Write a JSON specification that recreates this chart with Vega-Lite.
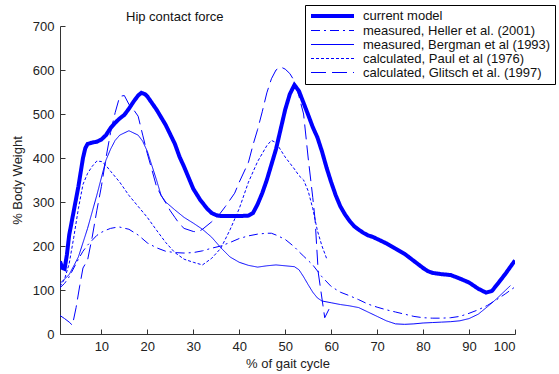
{
  "$schema": "https://vega.github.io/schema/vega-lite/v6.json",
  "width": 455,
  "height": 308,
  "autosize": "none",
  "padding": {"left": 60, "top": 26, "right": 44, "bottom": 40},
  "background": "white",
  "config": {
    "view": {"stroke": null},
    "font": "Liberation Sans",
    "axis": {
      "domainColor": "#333333",
      "tickColor": "#333333",
      "labelColor": "#222222",
      "labelFont": "Liberation Sans",
      "labelFontSize": 13,
      "titleFont": "Liberation Sans",
      "titleFontSize": 13,
      "titleFontWeight": "normal",
      "titleColor": "#222222",
      "grid": false,
      "tickSize": -5,
      "labelPadding": 11
    }
  },
  "title": {
    "text": "Hip contact force",
    "anchor": "start",
    "frame": "group",
    "dx": 66,
    "dy": 24,
    "fontSize": 13,
    "fontWeight": "normal",
    "font": "Liberation Sans",
    "color": "#111111",
    "offset": 5
  },
  "datasets": {
    "curves": [
      {"series": "current model", "x": 1, "y": 165}, {"series": "current model", "x": 1.5, "y": 150}, {"series": "current model", "x": 2, "y": 148}, {"series": "current model", "x": 2.5, "y": 180}, {"series": "current model", "x": 3, "y": 225}, {"series": "current model", "x": 4, "y": 280}, {"series": "current model", "x": 5, "y": 335}, {"series": "current model", "x": 6, "y": 400}, {"series": "current model", "x": 6.5, "y": 422}, {"series": "current model", "x": 7, "y": 432}, {"series": "current model", "x": 8, "y": 435}, {"series": "current model", "x": 9, "y": 437}, {"series": "current model", "x": 10, "y": 442}, {"series": "current model", "x": 11, "y": 452}, {"series": "current model", "x": 12, "y": 468}, {"series": "current model", "x": 13, "y": 480}, {"series": "current model", "x": 14, "y": 490}, {"series": "current model", "x": 15, "y": 498}, {"series": "current model", "x": 16, "y": 512}, {"series": "current model", "x": 17, "y": 528}, {"series": "current model", "x": 18, "y": 542}, {"series": "current model", "x": 18.7, "y": 548}, {"series": "current model", "x": 19.5, "y": 545}, {"series": "current model", "x": 20, "y": 540}, {"series": "current model", "x": 22, "y": 510}, {"series": "current model", "x": 24, "y": 475}, {"series": "current model", "x": 26, "y": 432}, {"series": "current model", "x": 27, "y": 403}, {"series": "current model", "x": 28, "y": 380}, {"series": "current model", "x": 30, "y": 330}, {"series": "current model", "x": 31.5, "y": 305}, {"series": "current model", "x": 33, "y": 285}, {"series": "current model", "x": 34, "y": 275}, {"series": "current model", "x": 35, "y": 270}, {"series": "current model", "x": 36, "y": 268}, {"series": "current model", "x": 38, "y": 268}, {"series": "current model", "x": 40, "y": 268}, {"series": "current model", "x": 42, "y": 269}, {"series": "current model", "x": 43, "y": 275}, {"series": "current model", "x": 44, "y": 295}, {"series": "current model", "x": 45, "y": 320}, {"series": "current model", "x": 46, "y": 350}, {"series": "current model", "x": 47, "y": 385}, {"series": "current model", "x": 48, "y": 420}, {"series": "current model", "x": 49, "y": 465}, {"series": "current model", "x": 50, "y": 510}, {"series": "current model", "x": 51, "y": 545}, {"series": "current model", "x": 52, "y": 566}, {"series": "current model", "x": 53, "y": 552}, {"series": "current model", "x": 54, "y": 525}, {"series": "current model", "x": 55, "y": 498}, {"series": "current model", "x": 56, "y": 470}, {"series": "current model", "x": 57, "y": 447}, {"series": "current model", "x": 58, "y": 415}, {"series": "current model", "x": 59, "y": 378}, {"series": "current model", "x": 60, "y": 345}, {"series": "current model", "x": 61, "y": 315}, {"series": "current model", "x": 62, "y": 290}, {"series": "current model", "x": 63, "y": 272}, {"series": "current model", "x": 64, "y": 257}, {"series": "current model", "x": 65, "y": 245}, {"series": "current model", "x": 66, "y": 237}, {"series": "current model", "x": 67, "y": 230}, {"series": "current model", "x": 68, "y": 224}, {"series": "current model", "x": 69, "y": 221}, {"series": "current model", "x": 70, "y": 216}, {"series": "current model", "x": 72, "y": 206}, {"series": "current model", "x": 74, "y": 194}, {"series": "current model", "x": 76, "y": 182}, {"series": "current model", "x": 78, "y": 166}, {"series": "current model", "x": 80, "y": 150}, {"series": "current model", "x": 81, "y": 143}, {"series": "current model", "x": 82, "y": 139}, {"series": "current model", "x": 84, "y": 136}, {"series": "current model", "x": 86, "y": 134}, {"series": "current model", "x": 88, "y": 126}, {"series": "current model", "x": 90, "y": 117}, {"series": "current model", "x": 92, "y": 103}, {"series": "current model", "x": 93.7, "y": 94}, {"series": "current model", "x": 95, "y": 98}, {"series": "current model", "x": 96.6, "y": 119}, {"series": "current model", "x": 98, "y": 138}, {"series": "current model", "x": 99.5, "y": 160}, {"series": "current model", "x": 100, "y": 167},

      {"series": "measured, Heller et al. (2001)", "x": 1, "y": 105}, {"series": "measured, Heller et al. (2001)", "x": 2, "y": 115}, {"series": "measured, Heller et al. (2001)", "x": 3, "y": 130}, {"series": "measured, Heller et al. (2001)", "x": 4, "y": 150}, {"series": "measured, Heller et al. (2001)", "x": 5, "y": 170}, {"series": "measured, Heller et al. (2001)", "x": 6, "y": 188}, {"series": "measured, Heller et al. (2001)", "x": 7, "y": 202}, {"series": "measured, Heller et al. (2001)", "x": 8, "y": 213}, {"series": "measured, Heller et al. (2001)", "x": 9, "y": 224}, {"series": "measured, Heller et al. (2001)", "x": 10, "y": 231}, {"series": "measured, Heller et al. (2001)", "x": 11, "y": 236}, {"series": "measured, Heller et al. (2001)", "x": 12, "y": 240}, {"series": "measured, Heller et al. (2001)", "x": 13, "y": 242}, {"series": "measured, Heller et al. (2001)", "x": 14, "y": 243}, {"series": "measured, Heller et al. (2001)", "x": 16, "y": 238}, {"series": "measured, Heller et al. (2001)", "x": 18, "y": 225}, {"series": "measured, Heller et al. (2001)", "x": 20, "y": 207}, {"series": "measured, Heller et al. (2001)", "x": 22, "y": 196}, {"series": "measured, Heller et al. (2001)", "x": 24, "y": 188}, {"series": "measured, Heller et al. (2001)", "x": 26, "y": 185}, {"series": "measured, Heller et al. (2001)", "x": 28, "y": 184}, {"series": "measured, Heller et al. (2001)", "x": 30, "y": 185}, {"series": "measured, Heller et al. (2001)", "x": 32, "y": 189}, {"series": "measured, Heller et al. (2001)", "x": 34, "y": 195}, {"series": "measured, Heller et al. (2001)", "x": 36, "y": 200}, {"series": "measured, Heller et al. (2001)", "x": 38, "y": 208}, {"series": "measured, Heller et al. (2001)", "x": 40, "y": 217}, {"series": "measured, Heller et al. (2001)", "x": 42, "y": 223}, {"series": "measured, Heller et al. (2001)", "x": 44, "y": 227}, {"series": "measured, Heller et al. (2001)", "x": 46, "y": 229}, {"series": "measured, Heller et al. (2001)", "x": 47, "y": 229}, {"series": "measured, Heller et al. (2001)", "x": 48, "y": 225}, {"series": "measured, Heller et al. (2001)", "x": 50, "y": 215}, {"series": "measured, Heller et al. (2001)", "x": 52, "y": 198}, {"series": "measured, Heller et al. (2001)", "x": 53, "y": 187}, {"series": "measured, Heller et al. (2001)", "x": 54, "y": 177}, {"series": "measured, Heller et al. (2001)", "x": 56, "y": 157}, {"series": "measured, Heller et al. (2001)", "x": 58, "y": 130}, {"series": "measured, Heller et al. (2001)", "x": 60, "y": 108}, {"series": "measured, Heller et al. (2001)", "x": 62, "y": 95}, {"series": "measured, Heller et al. (2001)", "x": 64, "y": 87}, {"series": "measured, Heller et al. (2001)", "x": 66, "y": 78}, {"series": "measured, Heller et al. (2001)", "x": 68, "y": 68}, {"series": "measured, Heller et al. (2001)", "x": 70, "y": 61}, {"series": "measured, Heller et al. (2001)", "x": 72, "y": 55}, {"series": "measured, Heller et al. (2001)", "x": 74, "y": 50}, {"series": "measured, Heller et al. (2001)", "x": 76, "y": 45}, {"series": "measured, Heller et al. (2001)", "x": 78, "y": 40}, {"series": "measured, Heller et al. (2001)", "x": 80, "y": 37}, {"series": "measured, Heller et al. (2001)", "x": 82, "y": 36}, {"series": "measured, Heller et al. (2001)", "x": 84, "y": 36}, {"series": "measured, Heller et al. (2001)", "x": 86, "y": 37}, {"series": "measured, Heller et al. (2001)", "x": 88, "y": 40}, {"series": "measured, Heller et al. (2001)", "x": 90, "y": 47}, {"series": "measured, Heller et al. (2001)", "x": 92, "y": 55}, {"series": "measured, Heller et al. (2001)", "x": 94, "y": 65}, {"series": "measured, Heller et al. (2001)", "x": 96, "y": 78}, {"series": "measured, Heller et al. (2001)", "x": 98, "y": 92}, {"series": "measured, Heller et al. (2001)", "x": 100, "y": 107},

      {"series": "measured, Bergman et al (1993)", "x": 1, "y": 115}, {"series": "measured, Bergman et al (1993)", "x": 3, "y": 135}, {"series": "measured, Bergman et al (1993)", "x": 5, "y": 175}, {"series": "measured, Bergman et al (1993)", "x": 7, "y": 240}, {"series": "measured, Bergman et al (1993)", "x": 9, "y": 315}, {"series": "measured, Bergman et al (1993)", "x": 11, "y": 395}, {"series": "measured, Bergman et al (1993)", "x": 12, "y": 420}, {"series": "measured, Bergman et al (1993)", "x": 13, "y": 440}, {"series": "measured, Bergman et al (1993)", "x": 14, "y": 452}, {"series": "measured, Bergman et al (1993)", "x": 16, "y": 462}, {"series": "measured, Bergman et al (1993)", "x": 18, "y": 452}, {"series": "measured, Bergman et al (1993)", "x": 19, "y": 438}, {"series": "measured, Bergman et al (1993)", "x": 20, "y": 415}, {"series": "measured, Bergman et al (1993)", "x": 22, "y": 350}, {"series": "measured, Bergman et al (1993)", "x": 23, "y": 315}, {"series": "measured, Bergman et al (1993)", "x": 24, "y": 300}, {"series": "measured, Bergman et al (1993)", "x": 26, "y": 282}, {"series": "measured, Bergman et al (1993)", "x": 28, "y": 265}, {"series": "measured, Bergman et al (1993)", "x": 30, "y": 252}, {"series": "measured, Bergman et al (1993)", "x": 32, "y": 238}, {"series": "measured, Bergman et al (1993)", "x": 34, "y": 220}, {"series": "measured, Bergman et al (1993)", "x": 36, "y": 196}, {"series": "measured, Bergman et al (1993)", "x": 38, "y": 175}, {"series": "measured, Bergman et al (1993)", "x": 40, "y": 163}, {"series": "measured, Bergman et al (1993)", "x": 42, "y": 156}, {"series": "measured, Bergman et al (1993)", "x": 44, "y": 152}, {"series": "measured, Bergman et al (1993)", "x": 46, "y": 155}, {"series": "measured, Bergman et al (1993)", "x": 48, "y": 157}, {"series": "measured, Bergman et al (1993)", "x": 50, "y": 155}, {"series": "measured, Bergman et al (1993)", "x": 52, "y": 153}, {"series": "measured, Bergman et al (1993)", "x": 53, "y": 146}, {"series": "measured, Bergman et al (1993)", "x": 54, "y": 130}, {"series": "measured, Bergman et al (1993)", "x": 55, "y": 112}, {"series": "measured, Bergman et al (1993)", "x": 56, "y": 95}, {"series": "measured, Bergman et al (1993)", "x": 57, "y": 82}, {"series": "measured, Bergman et al (1993)", "x": 58, "y": 75}, {"series": "measured, Bergman et al (1993)", "x": 60, "y": 71}, {"series": "measured, Bergman et al (1993)", "x": 62, "y": 67}, {"series": "measured, Bergman et al (1993)", "x": 64, "y": 64}, {"series": "measured, Bergman et al (1993)", "x": 66, "y": 60}, {"series": "measured, Bergman et al (1993)", "x": 68, "y": 50}, {"series": "measured, Bergman et al (1993)", "x": 70, "y": 40}, {"series": "measured, Bergman et al (1993)", "x": 72, "y": 30}, {"series": "measured, Bergman et al (1993)", "x": 74, "y": 23}, {"series": "measured, Bergman et al (1993)", "x": 76, "y": 22}, {"series": "measured, Bergman et al (1993)", "x": 78, "y": 23}, {"series": "measured, Bergman et al (1993)", "x": 80, "y": 25}, {"series": "measured, Bergman et al (1993)", "x": 82, "y": 26}, {"series": "measured, Bergman et al (1993)", "x": 84, "y": 27}, {"series": "measured, Bergman et al (1993)", "x": 86, "y": 28}, {"series": "measured, Bergman et al (1993)", "x": 88, "y": 30}, {"series": "measured, Bergman et al (1993)", "x": 90, "y": 35}, {"series": "measured, Bergman et al (1993)", "x": 92, "y": 45}, {"series": "measured, Bergman et al (1993)", "x": 94, "y": 62}, {"series": "measured, Bergman et al (1993)", "x": 96, "y": 80}, {"series": "measured, Bergman et al (1993)", "x": 98, "y": 100}, {"series": "measured, Bergman et al (1993)", "x": 99, "y": 110},

      {"series": "calculated, Paul et al (1976)", "x": 1, "y": 108}, {"series": "calculated, Paul et al (1976)", "x": 2, "y": 125}, {"series": "calculated, Paul et al (1976)", "x": 3, "y": 160}, {"series": "calculated, Paul et al (1976)", "x": 4, "y": 220}, {"series": "calculated, Paul et al (1976)", "x": 5, "y": 285}, {"series": "calculated, Paul et al (1976)", "x": 6, "y": 340}, {"series": "calculated, Paul et al (1976)", "x": 7, "y": 365}, {"series": "calculated, Paul et al (1976)", "x": 8, "y": 381}, {"series": "calculated, Paul et al (1976)", "x": 9, "y": 393}, {"series": "calculated, Paul et al (1976)", "x": 10, "y": 392}, {"series": "calculated, Paul et al (1976)", "x": 11, "y": 383}, {"series": "calculated, Paul et al (1976)", "x": 12, "y": 370}, {"series": "calculated, Paul et al (1976)", "x": 14, "y": 345}, {"series": "calculated, Paul et al (1976)", "x": 16, "y": 315}, {"series": "calculated, Paul et al (1976)", "x": 18, "y": 290}, {"series": "calculated, Paul et al (1976)", "x": 20, "y": 265}, {"series": "calculated, Paul et al (1976)", "x": 22, "y": 236}, {"series": "calculated, Paul et al (1976)", "x": 24, "y": 208}, {"series": "calculated, Paul et al (1976)", "x": 26, "y": 185}, {"series": "calculated, Paul et al (1976)", "x": 28, "y": 170}, {"series": "calculated, Paul et al (1976)", "x": 30, "y": 163}, {"series": "calculated, Paul et al (1976)", "x": 32, "y": 157}, {"series": "calculated, Paul et al (1976)", "x": 34, "y": 172}, {"series": "calculated, Paul et al (1976)", "x": 36, "y": 195}, {"series": "calculated, Paul et al (1976)", "x": 38, "y": 237}, {"series": "calculated, Paul et al (1976)", "x": 40, "y": 285}, {"series": "calculated, Paul et al (1976)", "x": 42, "y": 345}, {"series": "calculated, Paul et al (1976)", "x": 44, "y": 392}, {"series": "calculated, Paul et al (1976)", "x": 46, "y": 428}, {"series": "calculated, Paul et al (1976)", "x": 47, "y": 440}, {"series": "calculated, Paul et al (1976)", "x": 48, "y": 435}, {"series": "calculated, Paul et al (1976)", "x": 50, "y": 402}, {"series": "calculated, Paul et al (1976)", "x": 52, "y": 375}, {"series": "calculated, Paul et al (1976)", "x": 53, "y": 360}, {"series": "calculated, Paul et al (1976)", "x": 54, "y": 350}, {"series": "calculated, Paul et al (1976)", "x": 55, "y": 325}, {"series": "calculated, Paul et al (1976)", "x": 56, "y": 285}, {"series": "calculated, Paul et al (1976)", "x": 57, "y": 235}, {"series": "calculated, Paul et al (1976)", "x": 58, "y": 200}, {"series": "calculated, Paul et al (1976)", "x": 59, "y": 172},

      {"series": "calculated, Glitsch et al. (1997)", "x": 1, "y": 42}, {"series": "calculated, Glitsch et al. (1997)", "x": 2, "y": 35}, {"series": "calculated, Glitsch et al. (1997)", "x": 3, "y": 27}, {"series": "calculated, Glitsch et al. (1997)", "x": 3.7, "y": 20}, {"series": "calculated, Glitsch et al. (1997)", "x": 4.5, "y": 60}, {"series": "calculated, Glitsch et al. (1997)", "x": 5.3, "y": 110}, {"series": "calculated, Glitsch et al. (1997)", "x": 6, "y": 150}, {"series": "calculated, Glitsch et al. (1997)", "x": 7, "y": 168}, {"series": "calculated, Glitsch et al. (1997)", "x": 8, "y": 220}, {"series": "calculated, Glitsch et al. (1997)", "x": 9, "y": 280}, {"series": "calculated, Glitsch et al. (1997)", "x": 10, "y": 335}, {"series": "calculated, Glitsch et al. (1997)", "x": 11, "y": 400}, {"series": "calculated, Glitsch et al. (1997)", "x": 12, "y": 458}, {"series": "calculated, Glitsch et al. (1997)", "x": 13, "y": 503}, {"series": "calculated, Glitsch et al. (1997)", "x": 14, "y": 540}, {"series": "calculated, Glitsch et al. (1997)", "x": 15, "y": 542}, {"series": "calculated, Glitsch et al. (1997)", "x": 16, "y": 522}, {"series": "calculated, Glitsch et al. (1997)", "x": 17, "y": 510}, {"series": "calculated, Glitsch et al. (1997)", "x": 18, "y": 495}, {"series": "calculated, Glitsch et al. (1997)", "x": 19, "y": 452}, {"series": "calculated, Glitsch et al. (1997)", "x": 20, "y": 410}, {"series": "calculated, Glitsch et al. (1997)", "x": 21, "y": 373}, {"series": "calculated, Glitsch et al. (1997)", "x": 22, "y": 335}, {"series": "calculated, Glitsch et al. (1997)", "x": 23, "y": 315}, {"series": "calculated, Glitsch et al. (1997)", "x": 24, "y": 298}, {"series": "calculated, Glitsch et al. (1997)", "x": 25, "y": 280}, {"series": "calculated, Glitsch et al. (1997)", "x": 26, "y": 265}, {"series": "calculated, Glitsch et al. (1997)", "x": 27, "y": 250}, {"series": "calculated, Glitsch et al. (1997)", "x": 28, "y": 240}, {"series": "calculated, Glitsch et al. (1997)", "x": 30, "y": 233}, {"series": "calculated, Glitsch et al. (1997)", "x": 31, "y": 232}, {"series": "calculated, Glitsch et al. (1997)", "x": 32, "y": 238}, {"series": "calculated, Glitsch et al. (1997)", "x": 34, "y": 255}, {"series": "calculated, Glitsch et al. (1997)", "x": 35.4, "y": 268}, {"series": "calculated, Glitsch et al. (1997)", "x": 37, "y": 290}, {"series": "calculated, Glitsch et al. (1997)", "x": 39, "y": 320}, {"series": "calculated, Glitsch et al. (1997)", "x": 40, "y": 345}, {"series": "calculated, Glitsch et al. (1997)", "x": 42, "y": 390}, {"series": "calculated, Glitsch et al. (1997)", "x": 43, "y": 430}, {"series": "calculated, Glitsch et al. (1997)", "x": 44, "y": 465}, {"series": "calculated, Glitsch et al. (1997)", "x": 45, "y": 505}, {"series": "calculated, Glitsch et al. (1997)", "x": 46, "y": 548}, {"series": "calculated, Glitsch et al. (1997)", "x": 47, "y": 580}, {"series": "calculated, Glitsch et al. (1997)", "x": 48, "y": 600}, {"series": "calculated, Glitsch et al. (1997)", "x": 49, "y": 607}, {"series": "calculated, Glitsch et al. (1997)", "x": 50, "y": 602}, {"series": "calculated, Glitsch et al. (1997)", "x": 51, "y": 592}, {"series": "calculated, Glitsch et al. (1997)", "x": 52, "y": 575}, {"series": "calculated, Glitsch et al. (1997)", "x": 53, "y": 540}, {"series": "calculated, Glitsch et al. (1997)", "x": 54, "y": 500}, {"series": "calculated, Glitsch et al. (1997)", "x": 55, "y": 400}, {"series": "calculated, Glitsch et al. (1997)", "x": 56, "y": 310}, {"series": "calculated, Glitsch et al. (1997)", "x": 56.5, "y": 260}, {"series": "calculated, Glitsch et al. (1997)", "x": 57.2, "y": 139}, {"series": "calculated, Glitsch et al. (1997)", "x": 58.6, "y": 37}, {"series": "calculated, Glitsch et al. (1997)", "x": 59.7, "y": 60}
    ]
  },
  "data": {"name": "curves"},
  "mark": {"type": "line", "clip": true},
  "encoding": {
    "x": {
      "field": "x",
      "type": "quantitative",
      "scale": {"domain": [1, 100], "nice": false, "zero": false},
      "axis": {"values": [10, 20, 30, 40, 50, 60, 70, 80, 90, 100], "title": "% of gait cycle", "titlePadding": 4}
    },
    "y": {
      "field": "y",
      "type": "quantitative",
      "scale": {"domain": [0, 700], "nice": false},
      "axis": {"values": [0, 100, 200, 300, 400, 500, 600, 700], "title": "% Body Weight", "titlePadding": 8}
    },
    "color": {
      "field": "series",
      "type": "nominal",
      "scale": {
        "domain": ["current model", "measured, Heller et al. (2001)", "measured, Bergman et al (1993)", "calculated, Paul et al (1976)", "calculated, Glitsch et al. (1997)"],
        "range": ["#0000ff", "#0000ff", "#0000ff", "#0000ff", "#0000ff"]
      }
    },
    "strokeDash": {
      "field": "series",
      "type": "nominal",
      "scale": {
        "domain": ["current model", "measured, Heller et al. (2001)", "measured, Bergman et al (1993)", "calculated, Paul et al (1976)", "calculated, Glitsch et al. (1997)"],
        "range": [[1, 0], [9, 4, 2, 4], [1, 0], [3, 2], [15, 6]]
      },
      "legend": {
        "orient": "none",
        "legendX": 245,
        "legendY": -21,
        "title": null,
        "strokeColor": "black",
        "fillColor": "white",
        "padding": 4,
        "labelFontSize": 13,
        "labelFont": "Liberation Sans",
        "labelColor": "#111111",
        "labelLimit": 400,
        "symbolType": "M-1,0H7.6",
        "symbolSize": 100,
        "rowPadding": 0,
        "labelOffset": 40,
        "cornerRadius": 0
      }
    },
    "strokeWidth": {
      "field": "series",
      "type": "nominal",
      "scale": {
        "type": "ordinal",
        "domain": ["current model", "measured, Heller et al. (2001)", "measured, Bergman et al (1993)", "calculated, Paul et al (1976)", "calculated, Glitsch et al. (1997)"],
        "range": [4, 1, 1, 1, 1]
      }
    }
  }
}
